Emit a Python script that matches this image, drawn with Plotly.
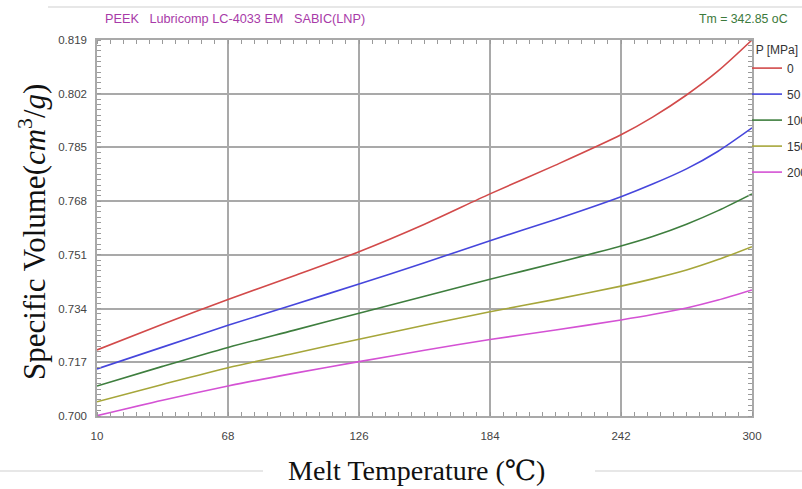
import plotly.graph_objects as go

# Melt temperature (°C) at which the specific volume was sampled
temperature = [10, 39, 68, 97, 126, 155, 184, 213, 242, 256, 271, 285, 300]

# Specific volume (cm3/g) for each pressure level
sv_0 = [0.7209, 0.7290, 0.7369, 0.7443, 0.7520, 0.7607, 0.7703, 0.7794, 0.7890, 0.7946, 0.8016, 0.8092, 0.8190]
sv_50 = [0.7149, 0.7218, 0.7287, 0.7352, 0.7418, 0.7485, 0.7555, 0.7622, 0.7694, 0.7734, 0.7782, 0.7838, 0.7912]
sv_100 = [0.7095, 0.7157, 0.7217, 0.7271, 0.7325, 0.7379, 0.7433, 0.7484, 0.7538, 0.7568, 0.7607, 0.7650, 0.7703]
sv_150 = [0.7045, 0.7100, 0.7153, 0.7198, 0.7243, 0.7287, 0.7330, 0.7369, 0.7411, 0.7434, 0.7462, 0.7495, 0.7536]
sv_200 = [0.7001, 0.7050, 0.7095, 0.7135, 0.7172, 0.7208, 0.7242, 0.7272, 0.7304, 0.7321, 0.7342, 0.7367, 0.7399]

pressures = ["0", "50", "100", "150", "200"]
series = [sv_0, sv_50, sv_100, sv_150, sv_200]
colors = ["#d24a4a", "#4646dc", "#3e7e3e", "#a6a63a", "#d452d4"]

x_ticks = [10, 68, 126, 184, 242, 300]
y_ticks = [0.700, 0.717, 0.734, 0.751, 0.768, 0.785, 0.802, 0.819]
y_tick_text = ["%.3f" % v for v in y_ticks]

W, H = 802, 489
L, R, T, B = 97, 50, 40, 73
PW, PH = W - L - R, H - T - B


def px_x(p):
    return (p - L) / PW


def px_y(p):
    return (H - B - p) / PH


fig = go.Figure()
for name, vals, col in zip(pressures, series, colors):
    fig.add_trace(go.Scatter(
        x=temperature, y=vals, mode="lines", name=name,
        legendgroup=name,
        line=dict(color=col, width=1.6, shape="spline", smoothing=0.8),
    ))

grid_col = "#a9a9a9"
sans = "Liberation Sans, Arial, sans-serif"
tick_font = dict(family=sans, size=11.5, color="#444444")

fig.update_xaxes(
    range=[10, 300], tickvals=x_ticks, ticks="", showgrid=True,
    gridcolor=grid_col, gridwidth=1.5, zeroline=False,
    showline=True, linecolor=grid_col, linewidth=1.5, mirror="allticks",
    tickfont=tick_font, ticklabelstandoff=8,
    minor=dict(ticks="inside", ticklen=4, dtick=5.8, tick0=10,
               tickcolor="#9a9a9a", tickwidth=1, showgrid=False),
)
fig.update_yaxes(
    range=[0.700, 0.819], tickvals=y_ticks, ticktext=y_tick_text, ticks="",
    showgrid=True, gridcolor=grid_col, gridwidth=1.5, zeroline=False,
    showline=True, linecolor=grid_col, linewidth=1.5, mirror="allticks",
    tickfont=tick_font, ticklabelstandoff=6,
    minor=dict(ticks="inside", ticklen=4, dtick=0.0017, tick0=0.700,
               tickcolor="#9a9a9a", tickwidth=1, showgrid=False),
)

serif = "Liberation Serif, DejaVu Serif, serif"

annotations = [
    dict(text="PEEK\u00a0\u00a0\u00a0Lubricomp LC-4033 EM\u00a0\u00a0\u00a0SABIC(LNP)",
         x=px_x(103), y=px_y(19), xanchor="left", yanchor="middle",
         font=dict(family=sans, size=12.7, color="#a83aa8")),
    dict(text="Tm = 342.85 oC",
         x=px_x(790), y=px_y(19), xanchor="right", yanchor="middle",
         font=dict(family=sans, size=12.3, color="#3c7a3c")),
    dict(text="Melt Temperature (\u2103)",
         x=px_x(416), y=px_y(471), xanchor="center", yanchor="middle",
         font=dict(family=serif, size=28, color="#111111")),
    dict(text="Specific Volume(<i>cm</i><sup>3</sup>/<i>g</i>)",
         x=px_x(32), y=px_y(232), xanchor="center", yanchor="middle", textangle=-90,
         font=dict(family=serif, size=31, color="#111111")),
]
for a in annotations:
    a.update(xref="paper", yref="paper", showarrow=False)

line_col = "#d0d0d0"
shapes = [
    dict(type="line", x0=px_x(48), x1=px_x(W), y0=px_y(7), y1=px_y(7)),
    dict(type="line", x0=px_x(0), x1=px_x(263), y0=px_y(471), y1=px_y(471)),
    dict(type="line", x0=px_x(595), x1=px_x(W), y0=px_y(471), y1=px_y(471)),
]
for s in shapes:
    s.update(xref="paper", yref="paper", line=dict(color=line_col, width=1.2))

fig.update_layout(
    width=W, height=H,
    margin=dict(l=L, r=R, t=T, b=B, autoexpand=False),
    paper_bgcolor="white", plot_bgcolor="white",
    annotations=annotations, shapes=shapes,
    legend=dict(
        x=px_x(747), y=px_y(38), xanchor="left", yanchor="top",
        bgcolor="rgba(0,0,0,0)", tracegroupgap=7,
        font=dict(family=sans, size=12, color="#333333"),
        title=dict(text="\u00a0\u00a0P [MPa]", font=dict(family=sans, size=12, color="#333333")),
    ),
)

fig.write_html("out.html")
